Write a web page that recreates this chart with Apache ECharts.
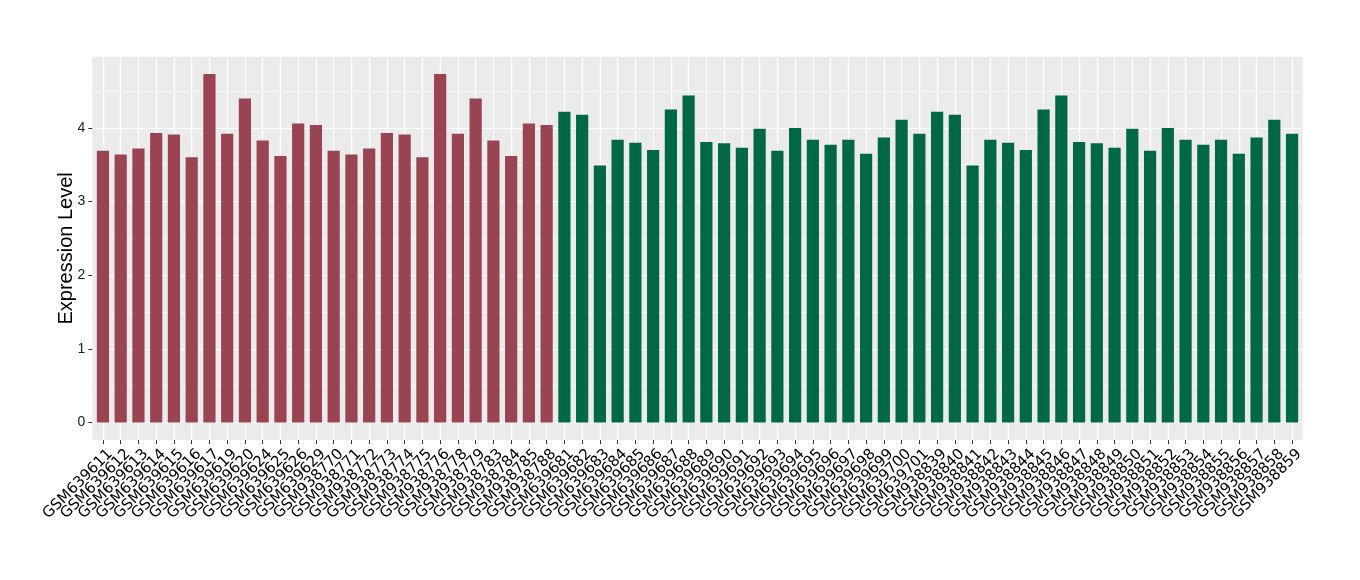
<!DOCTYPE html>
<html><head><meta charset="utf-8">
<script src="https://cdn.jsdelivr.net/npm/echarts@6/dist/echarts.min.js"></script>
<style>html,body{margin:0;padding:0;background:#fff}#c{width:1360px;height:580px}</style>
</head><body><div id="c"></div>
<script>
const categoriesA = ["GSM639611","GSM639612","GSM639613","GSM639614","GSM639615","GSM639616","GSM639617","GSM639619","GSM639620","GSM639624","GSM639625","GSM639626","GSM639629",
  "GSM938770","GSM938771","GSM938772","GSM938773","GSM938774","GSM938775","GSM938776","GSM938778","GSM938779","GSM938783","GSM938784","GSM938785","GSM938788"];
const valuesA = [3.69,3.64,3.72,3.93,3.91,3.60,4.73,3.92,4.40,3.83,3.62,4.06,4.04,
  3.69,3.64,3.72,3.93,3.91,3.60,4.73,3.92,4.40,3.83,3.62,4.06,4.04];
const categoriesB = ["GSM639681","GSM639682","GSM639683","GSM639684","GSM639685","GSM639686","GSM639687","GSM639688","GSM639689","GSM639690","GSM639691","GSM639692","GSM639693","GSM639694","GSM639695","GSM639696","GSM639697","GSM639698","GSM639699","GSM639700","GSM639701",
  "GSM938839","GSM938840","GSM938841","GSM938842","GSM938843","GSM938844","GSM938845","GSM938846","GSM938847","GSM938848","GSM938849","GSM938850","GSM938851","GSM938852","GSM938853","GSM938854","GSM938855","GSM938856","GSM938857","GSM938858","GSM938859"];
const valuesB = [4.22,4.18,3.49,3.84,3.80,3.70,4.25,4.44,3.81,3.79,3.73,3.99,3.69,4.00,3.84,3.77,3.84,3.65,3.87,4.11,3.92,
  4.22,4.18,3.49,3.84,3.80,3.70,4.25,4.44,3.81,3.79,3.73,3.99,3.69,4.00,3.84,3.77,3.84,3.65,3.87,4.11,3.92];
const yTicks = [0,1,2,3,4];
const yMinorTicks = [0.5,1.5,2.5,3.5,4.5];
const colorA = '#9A4351';
const colorB = '#006845';

const categories = categoriesA.concat(categoriesB);
const n = categories.length;
const positions = categories.map((c,i)=>i+1);
const data = categoriesA.map((c,i)=>({value:[i+1, valuesA[i]], itemStyle:{color:colorA}}))
  .concat(categoriesB.map((c,i)=>({value:[categoriesA.length+i+1, valuesB[i]], itemStyle:{color:colorB}})));
const ymax = 4.73*1.05, ymin = -4.73*0.05;
const font = 'Liberation Sans';
const G = {left:92.3, right:57.3, top:56.7, bottom:140};
const unit = (1360 - G.left - G.right) / (n + 0.2);

const chart = echarts.init(document.getElementById('c'), null, {renderer:'canvas'});
chart.setOption({
  animation:false,
  grid:[{left:G.left, right:G.right, top:G.top, bottom:G.bottom, show:true, backgroundColor:'#EBEBEB', borderWidth:0},
        {left:G.left+0.1*unit, right:G.right+0.1*unit, top:G.top, bottom:G.bottom, show:false}],
  xAxis:[{type:'value', gridIndex:0, min:0.4, max:n+0.6,
    axisLine:{show:false, onZero:false},
    axisTick:{show:true, length:4, customValues:positions, lineStyle:{color:'#333333', width:1}},
    axisLabel:{show:false},
    splitLine:{show:true, lineStyle:{color:'#FFFFFF', width:1.2}}},
   {type:'category', gridIndex:1, data:categories, position:'bottom',
    axisLine:{show:false, onZero:false}, axisTick:{show:false}, splitLine:{show:false},
    axisLabel:{interval:0, rotate:45, margin:2, color:'#000000', fontSize:15, fontFamily:'DejaVu Sans',
      verticalAlign:'top', padding:[4.5,1.8,0,0]}}],
  yAxis:[{type:'value', gridIndex:0, min:ymin, max:ymax,
    axisLine:{show:false, onZero:false},
    axisTick:{show:true, length:4, customValues:yTicks, lineStyle:{color:'#333333', width:1}},
    axisLabel:{customValues:yTicks, margin:7, color:'#222222', fontSize:14, fontFamily:font},
    splitLine:{show:true, lineStyle:{color:'#FFFFFF', width:1.2}},
    name:'Expression Level', nameLocation:'middle', nameGap:16, nameMoveOverlap:false,
    nameTextStyle:{fontSize:20, color:'#000', fontFamily:font}},
   {type:'value', gridIndex:0, min:ymin, max:ymax, position:'left',
    axisLine:{show:false, onZero:false},
    axisTick:{show:false, customValues:yMinorTicks},
    axisLabel:{show:false},
    splitLine:{show:true, lineStyle:{color:'#FFFFFF', width:0.6}}},
   {type:'value', gridIndex:1, show:false}],
  series:[{type:'bar', xAxisIndex:0, yAxisIndex:0, barWidth:12.2, data:data}]
});
</script></body></html>
